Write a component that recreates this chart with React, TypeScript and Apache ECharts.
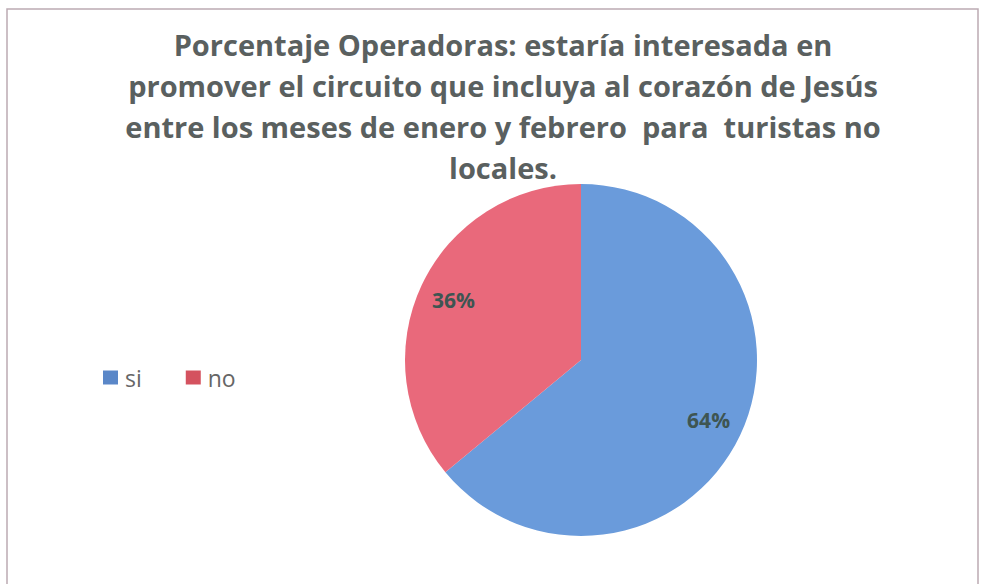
import React, { useEffect, useRef } from 'react';
import * as echarts from 'echarts';

const categories = ['si', 'no'];
const values = [64, 36];
const sliceColors = ['#6a9bdb', '#e9697b'];
const legendColors = ['#5a87c8', '#d4525f'];
const titleLines = [
  'Porcentaje Operadoras: estaría interesada en',
  'promover el circuito que incluya al corazón de Jesús',
  'entre los meses de enero y febrero  para  turistas no',
  'locales.',
];

export default function App() {
  const ref = useRef<HTMLDivElement>(null);
  useEffect(() => {
    const chart = echarts.init(ref.current!, null, { renderer: 'svg' });
    const data = categories.map((name, i) => ({ name, value: values[i] }));
    chart.setOption({
      animation: false,
      backgroundColor: '#ffffff',
      color: sliceColors,
      title: {
        text: titleLines.join('\n'),
        left: 503,
        textAlign: 'center',
        top: 24,
        padding: 0,
        textStyle: {
          fontFamily: 'Open Sans',
          fontWeight: 'bold',
          fontSize: 29,
          lineHeight: 41,
          color: '#5a605f',
        },
      },
      legend: {
        left: 103,
        top: 366,
        orient: 'horizontal',
        icon: 'rect',
        itemWidth: 15,
        itemHeight: 14,
        itemGap: 44,
        padding: 0,
        textStyle: { fontFamily: 'Open Sans', fontSize: 23, color: '#666666', padding: [0, 0, 0, 2] },
        data: categories.map((name, i) => ({ name, itemStyle: { color: legendColors[i] } })),
      },
      graphic: [
        {
          type: 'rect',
          shape: { x: 7, y: 9, width: 971, height: 600 },
          style: { fill: 'none', stroke: '#bcaab3', lineWidth: 1.5 },
          silent: true,
        },
      ],
      series: [
        {
          type: 'pie',
          center: [581, 360],
          radius: [0, 176],
          startAngle: 90,
          clockwise: true,
          silent: true,
          data,
          label: { show: false },
          labelLine: { show: false },
        },
        {
          type: 'pie',
          center: [581, 360],
          radius: [100, 176],
          startAngle: 90,
          clockwise: true,
          silent: true,
          data,
          itemStyle: { color: 'rgba(0,0,0,0)' },
          label: {
            show: true,
            position: 'inside',
            formatter: '{c}%',
            fontFamily: 'Open Sans',
            fontWeight: 'bold',
            fontSize: 21,
            color: '#3e5552',
          },
          labelLine: { show: false },
        },
      ],
    });
    return () => chart.dispose();
  }, []);
  return (
    <div
      ref={ref}
      style={{ position: 'fixed', left: 0, top: 0, width: 984, height: 584 }}
    />
  );
}
